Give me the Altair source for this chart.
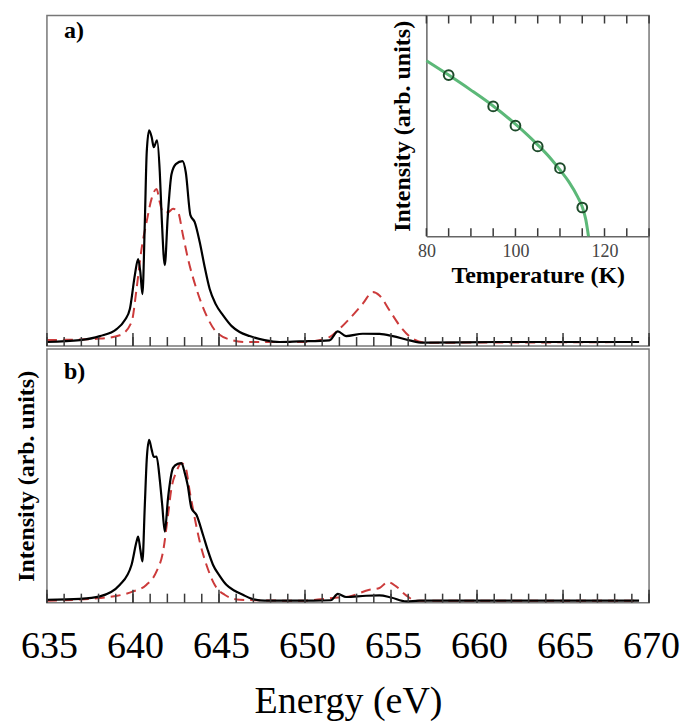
import altair as alt
import pandas as pd

FONT = "Liberation Serif"

# ---------------- data ----------------
# panel a) solid black spectrum
E_a_solid = [635.0, 636.92, 638.08, 639.05, 639.53, 639.82, 640.11, 640.30, 640.43, 640.55,
             640.69, 640.80, 640.94, 641.09, 641.21, 641.40, 641.56, 641.67, 641.85, 642.02,
             642.24, 642.49, 642.88, 643.07, 643.34, 643.59, 643.88, 644.17, 644.46, 644.81,
             645.23, 645.74, 646.20, 646.78, 647.65, 648.52, 649.68, 651.42, 651.91, 652.39,
             653.36, 654.33, 655.10, 656.07, 656.84, 661.29, 669.42]
I_a_solid = [0.0, 0.009, 0.028, 0.061, 0.104, 0.156, 0.316, 0.392, 0.330, 0.226,
             0.566, 0.896, 1.0, 0.967, 0.920, 0.953, 0.802, 0.590, 0.363, 0.590,
             0.792, 0.840, 0.854, 0.802, 0.599, 0.566, 0.472, 0.354, 0.250, 0.179,
             0.127, 0.075, 0.047, 0.028, 0.009, 0.0, 0.003, 0.008, 0.050, 0.028,
             0.039, 0.038, 0.028, 0.008, -0.003, 0.0, 0.0]
# panel a) dashed red spectrum
E_a_dash = [635.0, 638.08, 639.24, 639.92, 640.21, 640.50, 640.79, 641.08, 641.37, 641.56,
            641.75, 642.04, 642.33, 642.62, 642.91, 643.20, 643.69, 644.27, 644.85, 645.81,
            646.59, 649.68, 651.23, 651.91, 652.59, 653.36, 653.94, 654.33, 654.91, 655.49,
            656.26, 657.04, 669.42]
I_a_dash = [0.009, 0.016, 0.032, 0.094, 0.251, 0.440, 0.566, 0.676, 0.723, 0.660,
            0.613, 0.613, 0.629, 0.613, 0.503, 0.393, 0.251, 0.126, 0.047, 0.008,
            0.0, 0.0, 0.016, 0.055, 0.110, 0.181, 0.236, 0.220, 0.150, 0.079,
            0.016, -0.003, 0.0]
# panel b) solid black spectrum
E_b_solid = [635.0, 636.92, 638.08, 639.24, 639.92, 640.21, 640.30, 640.43, 640.55, 640.69,
             640.80, 640.94, 641.09, 641.21, 641.37, 641.56, 641.70, 641.85, 642.04, 642.33,
             642.60, 642.82, 643.01, 643.18, 643.40, 643.69, 644.07, 644.34, 644.65, 645.04,
             645.43, 645.91, 646.39, 646.78, 647.65, 650.5, 651.5, 651.91, 652.39, 653.55,
             654.33, 655.0, 655.88, 656.65, 669.42]
I_b_solid = [0.006, 0.012, 0.027, 0.099, 0.224, 0.368, 0.399, 0.317, 0.244, 0.596,
             0.876, 1.0, 0.938, 0.894, 0.896, 0.752, 0.596, 0.430, 0.640, 0.826,
             0.851, 0.855, 0.795, 0.720, 0.576, 0.534, 0.410, 0.317, 0.224, 0.155,
             0.099, 0.062, 0.037, 0.017, 0.0, 0.0, 0.003, 0.042, 0.023, 0.031,
             0.033, 0.020, -0.004, 0.0, 0.0]
# panel b) dashed red spectrum
E_b_dash = [635.0, 638.08, 640.01, 640.79, 641.37, 641.75, 642.04, 642.24, 642.53, 642.82,
            643.07, 643.30, 643.59, 643.88, 644.27, 644.75, 645.33, 646.20, 649.68, 651.62,
            652.59, 653.75, 654.33, 654.81, 655.30, 655.88, 656.46, 669.42]
I_b_dash = [0.0, 0.017, 0.058, 0.099, 0.182, 0.306, 0.534, 0.700, 0.803, 0.855,
            0.824, 0.679, 0.514, 0.368, 0.224, 0.099, 0.037, 0.006, 0.0, 0.017,
            0.027, 0.068, 0.079, 0.116, 0.089, 0.033, 0.0, 0.0]

# inset: temperature dependence
T_fit = [80, 85, 90, 95, 100, 105, 108, 110, 112, 114, 115, 115.8, 116.4]
I_fit = [0.795, 0.730, 0.662, 0.590, 0.508, 0.414, 0.350, 0.300, 0.246, 0.177, 0.133, 0.075, 0.0]
T_meas = [85, 95, 100, 105, 110, 115]
I_meas = [0.730, 0.588, 0.501, 0.407, 0.308, 0.130]

energy_labels = [635, 640, 645, 650, 655, 660, 665, 670]
energy_minor = [float(v) for v in range(635, 671)]
temp_labels = [80, 100, 120]
temp_minor = [float(v) for v in range(80, 131, 5)]

# ---------------- layout ----------------
W = 603
HA = 331
HB = 254
YA = [-0.019, 1.542]
YB = [-0.012, 1.565]
TICK_COLOR = "#3a3a3a"

xs = alt.Scale(domain=[635, 670], nice=False, zero=False)

xb_axis = alt.Axis(values=energy_labels, format="d", labelFont=FONT, labelFontSize=38,
                   labelColor="black", ticks=False, domain=False, grid=False,
                   labelPadding=25, labelOffset=2, labelFlush=False, labelOverlap=False,
                   title="Energy (eV)", titleFont=FONT, titleFontSize=38,
                   titleFontWeight="normal", titleColor="black", titlePadding=17)
yb_axis = alt.Axis(title="Intensity (arb. units)", labels=False, ticks=False, domain=False,
                   grid=False, titleFont=FONT, titleFontSize=24, titleFontWeight="bold",
                   titleColor="black", titlePadding=8)


def tick_frame(values, dom, H, length_px):
    # inward tick segments standing on the bottom edge, `length_px` pixels long
    lo = dom[0]
    hi = dom[0] + length_px * (dom[1] - dom[0]) / H
    return pd.DataFrame({"tv": values, "ty0": [lo] * len(values), "ty1": [hi] * len(values)})


def panel(Es, Is, Ed, Id, dom, H, xaxis, yaxis, label, label_y):
    yscale = alt.Scale(domain=dom, nice=False, zero=False)
    dfs = pd.DataFrame({"E": Es, "I": Is})
    dfd = pd.DataFrame({"E": Ed, "I": Id})
    X = alt.X("E:Q", scale=xs, axis=xaxis, title="Energy (eV)")
    Y = alt.Y("I:Q", scale=yscale, axis=yaxis, title="Intensity (arb. units)")
    XT = alt.X("tv:Q", scale=xs, axis=xaxis, title="Energy (eV)")
    YT = alt.Y("ty0:Q", scale=yscale, axis=yaxis, title="Intensity (arb. units)")
    solid = alt.Chart(dfs).mark_line(color="black", strokeWidth=2.2, interpolate="monotone",
                                     clip=True).encode(x=X, y=Y)
    dashed = alt.Chart(dfd).mark_line(color="#cc3b3b", strokeWidth=2, strokeDash=[10, 6],
                                      interpolate="monotone", clip=True).encode(x=X, y=Y)
    minor = alt.Chart(tick_frame(energy_minor, dom, H, 9)).mark_rule(
        color=TICK_COLOR, strokeWidth=1.5).encode(x=XT, y=YT, y2="ty1:Q")
    major = alt.Chart(tick_frame(energy_labels, dom, H, 13)).mark_rule(
        color=TICK_COLOR, strokeWidth=1.5).encode(x=XT, y=YT, y2="ty1:Q")
    txt = alt.Chart(pd.DataFrame({"t": [label]})).mark_text(
        font=FONT, fontWeight="bold", fontSize=24, align="left", baseline="top",
        color="black").encode(x=alt.value(17), y=alt.value(label_y), text="t:N")
    return alt.layer(dashed, solid, minor, major, txt)


main_a = panel(E_a_solid, I_a_solid, E_a_dash, I_a_dash, YA, HA, None, None, "a)", 4)
main_b = panel(E_b_solid, I_b_solid, E_b_dash, I_b_dash, YB, HB, xb_axis, yb_axis, "b)", 11)

# inset inside panel a
IH = 221
xi = alt.Scale(domain=[80, 130], range=[380, 603], nice=False, zero=False)
yi = alt.Scale(domain=[0, 1], range=[IH, 0], nice=False, zero=False)
xi_axis = alt.Axis(orient="bottom", offset=-(HA - IH), values=temp_labels, format="d",
                   labelFont=FONT, labelFontSize=18, labelColor="#444", ticks=False,
                   domainColor="#666", domainWidth=1.5, grid=False, labelPadding=6,
                   labelFlush=False, title="Temperature (K)", titleFont=FONT,
                   titleFontSize=24, titleFontWeight="bold", titleColor="black",
                   titlePadding=3)
yi_axis = alt.Axis(orient="left", offset=-380, labels=False, ticks=False, grid=False,
                   domainColor="#666", domainWidth=1.5, title="Intensity (arb. units)",
                   titleFont=FONT, titleFontSize=24, titleFontWeight="bold",
                   titleColor="black", titlePadding=12)
XI = alt.X("T:Q", scale=xi, axis=xi_axis, title="Temperature (K)")
YI = alt.Y("I:Q", scale=yi, axis=yi_axis, title="Intensity (arb. units)")
tlen = 8 / IH
tk_bot = pd.DataFrame({"T": temp_minor, "I": [0.0] * len(temp_minor),
                       "I2": [tlen] * len(temp_minor)})
tk_top = pd.DataFrame({"T": temp_minor, "I": [1.0] * len(temp_minor),
                       "I2": [1.0 - tlen] * len(temp_minor)})
fit = alt.Chart(pd.DataFrame({"T": T_fit, "I": I_fit})).mark_line(
    color="#5cb878", strokeWidth=3, interpolate="monotone").encode(x=XI, y=YI)
pts = alt.Chart(pd.DataFrame({"T": T_meas, "I": I_meas})).mark_point(
    shape="circle", size=95, filled=False, stroke="#1d4a2a", strokeWidth=2,
    opacity=1).encode(x=XI, y=YI)
tick_bot = alt.Chart(tk_bot).mark_rule(color=TICK_COLOR, strokeWidth=1.5).encode(
    x=XI, y=YI, y2="I2:Q")
tick_top = alt.Chart(tk_top).mark_rule(color=TICK_COLOR, strokeWidth=1.5).encode(
    x=XI, y=YI, y2="I2:Q")
inset = alt.layer(fit, pts, tick_bot, tick_top)

panel_a = alt.layer(main_a, inset).resolve_scale(x="independent", y="independent").properties(
    width=W, height=HA)
panel_b = main_b.properties(width=W, height=HB)

chart = alt.vconcat(panel_a, panel_b, spacing=0).properties(
    padding={"left": 6, "top": 5, "right": 0, "bottom": 5},
    background="white",
).configure_view(stroke="#777", strokeWidth=1.5)

chart.save("out.html", embed_options={"renderer": "svg", "actions": False})
